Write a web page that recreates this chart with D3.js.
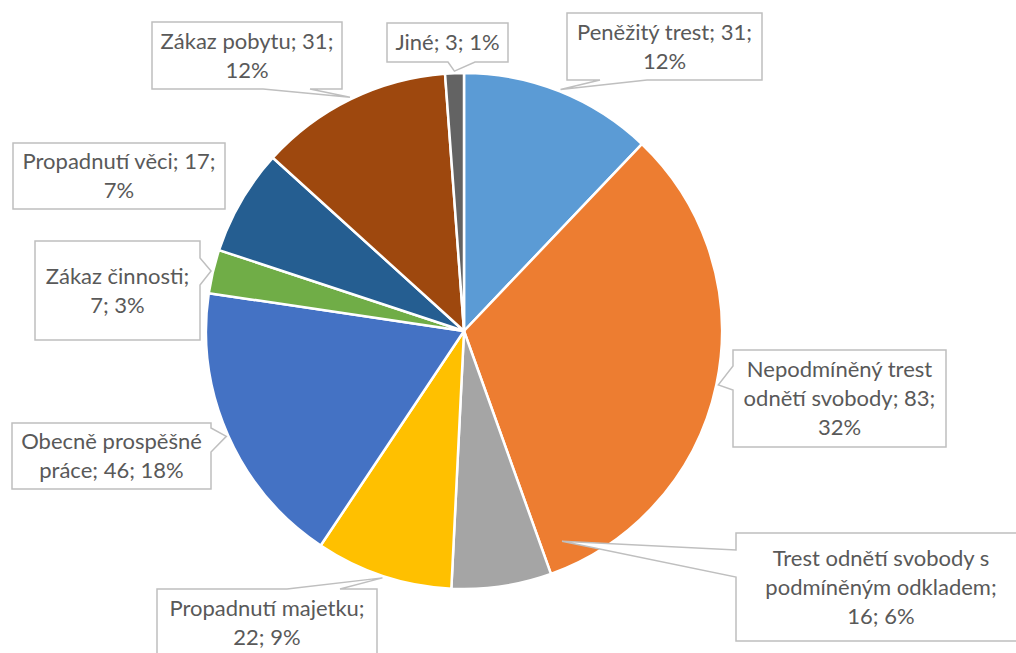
<!DOCTYPE html>
<html>
<head>
<meta charset="utf-8">
<script src="https://cdn.jsdelivr.net/npm/d3@7"></script>
<style>
  html, body { margin: 0; padding: 0; background: #ffffff; }
  svg { display: block; }
</style>
</head>
<body>
<div id="chart"></div>
<script>
// Chart data
const categories = [
    'Peněžitý trest',
    'Nepodmíněný trest odnětí svobody',
    'Trest odnětí svobody s podmíněným odkladem',
    'Propadnutí majetku',
    'Obecně prospěšné práce',
    'Zákaz činnosti',
    'Propadnutí věci',
    'Zákaz pobytu',
    'Jiné'
];
const values = [31, 83, 16, 22, 46, 7, 17, 31, 3];
const colors = ['#5B9BD5', '#ED7D31', '#A5A5A5', '#FFC000', '#4472C4', '#70AD47', '#255E91', '#9E480E', '#636363'];

// Label box layout (callouts), same order as categories
const labelBoxes = [
    { x: 567, y: 13, w: 195, h: 67, side: 'bottom', b: [600, 647] },
    { x: 733, y: 350, w: 213, h: 97, side: 'left', b: [366, 390] },
    { x: 736, y: 533, w: 290, h: 108, side: 'left', b: [550, 577], tipAngle: 155, tipR: 232, wrap: 250 },
    { x: 157, y: 589, w: 220, h: 67, side: 'top', b: [287, 340] },
    { x: 12, y: 423, w: 199, h: 66, side: 'right', b: [428, 452] },
    { x: 35, y: 241, w: 165, h: 99, side: 'right', b: [258, 285] },
    { x: 13, y: 143, w: 212, h: 66, side: null },
    { x: 152, y: 22, w: 190, h: 67, side: 'bottom', b: [263, 310] },
    { x: 387, y: 23, w: 121, h: 39, side: 'bottom', b: [448, 475] }
];

const width = 1016;
const height = 653;
const cx = 464, cy = 331, radius = 258;
const fontSize = 22;
const lineHeight = 29;

const svg = d3.select('#chart')
    .append('svg')
    .attr('width', width)
    .attr('height', height)
    .attr('viewBox', `0 0 ${width} ${height}`);

const total = d3.sum(values);
const data = categories.map((c, i) => ({ name: c, value: values[i], color: colors[i], box: labelBoxes[i] }));

const pie = d3.pie().sort(null).value(d => d.value);
const arc = d3.arc().innerRadius(0).outerRadius(radius);
const arcs = pie(data);

const g = svg.append('g').attr('transform', `translate(${cx},${cy})`);

g.selectAll('path.slice')
    .data(arcs)
    .enter().append('path')
    .attr('class', 'slice')
    .attr('d', arc)
    .attr('fill', d => d.data.color)
    .attr('stroke', '#ffffff')
    .attr('stroke-width', 2.5)
    .attr('stroke-linejoin', 'round');

// Callout shape: rectangle with a wedge pointing at the slice
function calloutPath(box, tip) {
    const { x, y, w, h, side, b } = box;
    const p = d3.path();
    p.moveTo(x, y);
    if (side === 'top') { p.lineTo(b[0], y); p.lineTo(tip[0], tip[1]); p.lineTo(b[1], y); }
    p.lineTo(x + w, y);
    if (side === 'right') { p.lineTo(x + w, b[0]); p.lineTo(tip[0], tip[1]); p.lineTo(x + w, b[1]); }
    p.lineTo(x + w, y + h);
    if (side === 'bottom') { p.lineTo(b[1], y + h); p.lineTo(tip[0], tip[1]); p.lineTo(b[0], y + h); }
    p.lineTo(x, y + h);
    if (side === 'left') { p.lineTo(x, b[1]); p.lineTo(tip[0], tip[1]); p.lineTo(x, b[0]); }
    p.closePath();
    return p.toString();
}

function wrapWords(text, maxWidth, measure) {
    const words = text.split(' ');
    const lines = [];
    let line = '';
    words.forEach(word => {
        const test = line ? line + ' ' + word : word;
        if (line && measure(test) > maxWidth) {
            lines.push(line);
            line = word;
        } else {
            line = test;
        }
    });
    if (line) lines.push(line);
    return lines;
}

const labels = svg.append('g').attr('class', 'labels');

// hidden text node for measuring
const measurer = svg.append('text')
    .attr('font-family', 'Lato, "Open Sans", sans-serif')
    .attr('font-size', fontSize)
    .attr('visibility', 'hidden');
const measure = s => { measurer.text(s); return measurer.node().getComputedTextLength(); };

arcs.forEach(a => {
    const box = a.data.box;
    const mid = box.tipAngle !== undefined ? box.tipAngle * Math.PI / 180 : (a.startAngle + a.endAngle) / 2;
    const r = box.tipR !== undefined ? box.tipR : radius + 2;
    const tip = [cx + r * Math.sin(mid), cy - r * Math.cos(mid)];

    labels.append('path')
        .attr('d', calloutPath(box, tip))
        .attr('fill', '#ffffff')
        .attr('stroke', '#BFBFBF')
        .attr('stroke-width', 1.5)
        .attr('stroke-linejoin', 'miter');

    const pct = Math.round(a.data.value / total * 100);
    const full = `${a.data.name}; ${a.data.value}; ${pct}%`;
    const lines = wrapWords(full, box.wrap || box.w - 12, measure);
    const midY = box.y + box.h / 2;
    const firstY = midY - (lines.length - 1) * lineHeight / 2;

    lines.forEach((ln, i) => {
        labels.append('text')
            .attr('x', box.x + box.w / 2)
            .attr('y', firstY + i * lineHeight)
            .attr('dy', '0.35em')
            .attr('text-anchor', 'middle')
            .attr('font-family', 'Lato, "Open Sans", sans-serif')
            .attr('font-size', fontSize)
            .attr('fill', '#595959')
            .text(ln);
    });
});

measurer.remove();
</script>
</body>
</html>
